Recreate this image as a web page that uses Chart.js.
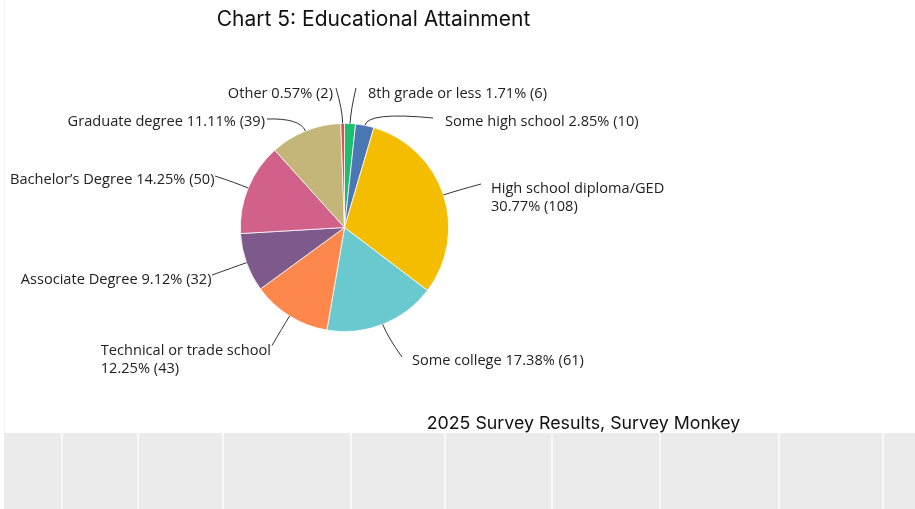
<!DOCTYPE html>
<html>
<head>
<meta charset="utf-8">
<script src="https://cdn.jsdelivr.net/npm/chart.js@4.4.1/dist/chart.umd.min.js"></script>
<style>
  html, body { margin: 0; padding: 0; background: #fff; }
  #wrap { position: relative; width: 915px; height: 509px; overflow: hidden; }
  #edge { position: absolute; left: 4px; top: 0; width: 1px; height: 433px; background: #f4f4f4; }
  #chart { position: absolute; left: 0; top: 0; }
  #sheet { position: absolute; left: 4px; top: 433px; width: 911px; height: 76px; background: #ebebeb; }
  #sheet div { position: absolute; top: 0; width: 2px; height: 76px; background: #f8f8f8; }
</style>
</head>
<body>
<div id="wrap">
  <div id="edge"></div>
  <canvas id="chart" width="915" height="433"></canvas>
  <div id="sheet"></div>
</div>
<script>
// Survey responses, clockwise from 12 o'clock
const categories = [
  '8th grade or less',
  'Some high school',
  'High school diploma/GED',
  'Some college',
  'Technical or trade school',
  'Associate Degree',
  'Bachelor’s Degree',
  'Graduate degree',
  'Other'
];
const counts = [6, 10, 108, 61, 43, 32, 50, 39, 2];
const colors = ['#1dbe6e', '#4b77b5', '#f5bd00', '#6ac9ce', '#fe884b', '#7d5a8b', '#d1608b', '#c4b578', '#d9505c'];

// leader line end (ex, ey) and text anchor (tx, ty), offsets from the pie centre
const labelLayout = [
  { ex: 11.5, ey: -139.5, tx: 23.5, ty: -133.5, align: 'left' },
  { ex: 88.5, ey: -109.5, tx: 100.5, ty: -106, align: 'left' },
  { ex: 136.5, ey: -43.5, tx: 146.5, ty: -38.5, align: 'left', wrap: true },
  { ex: 57.5, ey: 129.5, tx: 67.5, ty: 133, align: 'left' },
  { ex: -72.5, ey: 118, tx: -73.5, ty: 123, align: 'right', wrap: true },
  { ex: -132.5, ey: 47.5, tx: -133, ty: 52, align: 'right' },
  { ex: -129.5, ey: -51.5, tx: -130, ty: -47.5, align: 'right' },
  { ex: -77.5, ey: -108.5, tx: -79.5, ty: -105.5, align: 'right' },
  { ex: -8.5, ey: -139.5, tx: -11.5, ty: -133.5, align: 'right' }
];

const total = counts.reduce((a, b) => a + b, 0);

// spreadsheet gridlines under the chart
const sheetLines = [57, 133, 218, 346, 440, 547, 655, 774, 878];
const sheet = document.getElementById('sheet');
sheetLines.forEach(x => {
  const d = document.createElement('div');
  d.style.left = x + 'px';
  sheet.appendChild(d);
});

const outerLabels = {
  id: 'outerLabels',
  afterDatasetsDraw(chart) {
    const ctx = chart.ctx;
    const arcs = chart.getDatasetMeta(0).data;
    ctx.save();
    ctx.font = '14.6px "Open Sans"';
    ctx.textBaseline = 'middle';
    arcs.forEach((arc, i) => {
      const { x, y, startAngle, endAngle, outerRadius } = arc.getProps(['x', 'y', 'startAngle', 'endAngle', 'outerRadius'], true);
      const mid = (startAngle + endAngle) / 2;
      const lay = labelLayout[i];
      const sx = x + Math.cos(mid) * outerRadius;
      const sy = y + Math.sin(mid) * outerRadius;
      const cx = x + Math.cos(mid) * (outerRadius + 14);
      const cy = y + Math.sin(mid) * (outerRadius + 14);

      ctx.beginPath();
      ctx.moveTo(sx, sy);
      ctx.quadraticCurveTo(cx, cy, x + lay.ex, y + lay.ey);
      ctx.strokeStyle = '#333';
      ctx.lineWidth = 1;
      ctx.stroke();

      const pct = (counts[i] / total * 100).toFixed(2) + '% (' + counts[i] + ')';
      ctx.fillStyle = '#222';
      ctx.textAlign = lay.align;
      if (lay.wrap) {
        ctx.fillText(categories[i], x + lay.tx, y + lay.ty);
        ctx.textAlign = 'left';
        const lx = lay.align === 'right' ? x + lay.tx - ctx.measureText(categories[i]).width : x + lay.tx;
        ctx.fillText(pct, lx, y + lay.ty + 18);
      } else {
        ctx.fillText(categories[i] + ' ' + pct, x + lay.tx, y + lay.ty);
      }
    });

    // heading and source line
    ctx.fillStyle = '#111';
    ctx.textAlign = 'center';
    ctx.font = '21px Inter';
    ctx.fillText('Chart 5: Educational Attainment', 373.5, 19.5);
    ctx.font = '17.8px Inter';
    ctx.fillText('2025 Survey Results, Survey Monkey', 583.5, 424);
    ctx.restore();
  }
};

function drawChart() {
  new Chart(document.getElementById('chart'), {
    type: 'pie',
    data: {
      labels: categories,
      datasets: [{
        data: counts,
        backgroundColor: colors,
        borderColor: '#fff',
        borderWidth: 0.75
      }]
    },
    options: {
      responsive: false,
      animation: false,
      events: [],
      layout: { padding: { left: 240, right: 466, top: 123, bottom: 101 } },
      plugins: {
        legend: { display: false },
        tooltip: { enabled: false },
        title: { display: false }
      }
    },
    plugins: [outerLabels]
  });
}

// canvas text needs the fonts ready before the first draw
Promise.all([
  document.fonts.load('14.6px "Open Sans"'),
  document.fonts.load('21px Inter'),
  document.fonts.load('17.8px Inter')
]).then(drawChart, drawChart);
</script>
</body>
</html>
